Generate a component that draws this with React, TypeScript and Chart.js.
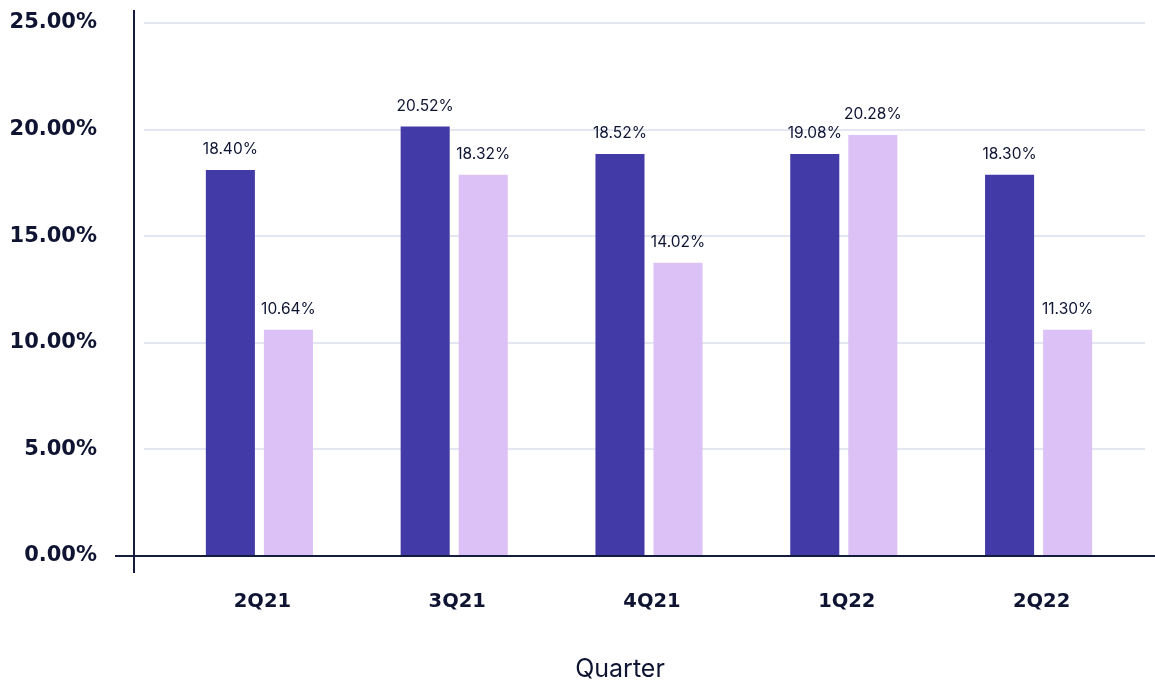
import React, { useEffect, useRef } from 'react';
import { Chart, registerables } from 'chart.js';

Chart.register(...registerables);

// ---- Data ----
const quarters = ['2Q21', '3Q21', '4Q21', '1Q22', '2Q22'];
const seriesDark = [18.11, 20.14, 18.86, 18.86, 17.88];
const seriesLight = [10.61, 17.88, 13.75, 19.75, 10.61];
const labelsDark = ['18.40%', '20.52%', '18.52%', '19.08%', '18.30%'];
const labelsLight = ['10.64%', '18.32%', '14.02%', '20.28%', '11.30%'];
const yMin = 0;
const yMax = 25;
const yStep = 5;
const xAxisTitle = 'Quarter';

const DARK = '#423aa6';
const LIGHT = '#dbc1f6';
const TEXT = '#0e1432';
const AXIS = '#141b3b';
const GRID = '#e4e6f1';

const decorPlugin = {
  id: 'decor',
  beforeDatasetsDraw(chart: any) {
    const { ctx } = chart;
    const y = chart.scales.y;
    ctx.save();
    ctx.strokeStyle = GRID;
    ctx.lineWidth = 2;
    y.ticks.forEach((t: any) => {
      if (t.value === 0) return;
      const py = Math.round(y.getPixelForValue(t.value));
      ctx.beginPath();
      ctx.moveTo(144, py);
      ctx.lineTo(1145, py);
      ctx.stroke();
    });
    ctx.restore();
  },
  afterDatasetsDraw(chart: any) {
    const { ctx } = chart;
    const y = chart.scales.y;
    const zero = Math.round(y.getPixelForValue(0));
    ctx.save();
    // axis lines
    ctx.strokeStyle = AXIS;
    ctx.lineWidth = 2;
    ctx.beginPath();
    ctx.moveTo(134, 10);
    ctx.lineTo(134, 573);
    ctx.stroke();
    ctx.beginPath();
    ctx.moveTo(115, zero);
    ctx.lineTo(1155, zero);
    ctx.stroke();

    // value labels
    const allLabels = [labelsDark, labelsLight];
    ctx.fillStyle = TEXT;
    ctx.font = '15.5px Inter';
    ctx.textAlign = 'center';
    ctx.textBaseline = 'alphabetic';
    allLabels.forEach((labels, i) => {
      const meta = chart.getDatasetMeta(i);
      meta.data.forEach((bar: any, j: number) => {
        ctx.fillText(labels[j], bar.x, bar.y - 16);
      });
    });

    // axis title
    ctx.font = '25px Inter';
    ctx.fillText(xAxisTitle, 620, 677);
    ctx.restore();
  },
};

export default function App() {
  const canvasRef = useRef<HTMLCanvasElement | null>(null);

  useEffect(() => {
    document.body.style.margin = '0';
    const canvas = canvasRef.current;
    if (!canvas) return;
    const chart = new Chart(canvas, {
      type: 'bar',
      data: {
        labels: quarters,
        datasets: [
          {
            data: seriesDark,
            backgroundColor: DARK,
            categoryPercentage: 0.596,
            barPercentage: 0.845,
          },
          {
            data: seriesLight,
            backgroundColor: LIGHT,
            categoryPercentage: 0.596,
            barPercentage: 0.845,
          },
        ],
      },
      options: {
        animation: false,
        responsive: false,
        devicePixelRatio: 1,
        layout: { padding: { top: 23, right: 19, left: 0, bottom: 0 } },
        plugins: {
          legend: { display: false },
          tooltip: { enabled: false },
        },
        scales: {
          x: {
            grid: { display: false, drawTicks: false },
            border: { display: false },
            ticks: {
              color: TEXT,
              font: { family: 'DejaVu Sans', weight: 'bold', size: 19.5 },
              padding: 34,
              labelOffset: 3,
              maxRotation: 0,
            },
            afterFit(scale: any) {
              scale.height = 127;
              scale.paddingLeft = 0;
              scale.paddingRight = 0;
            },
          },
          y: {
            min: yMin,
            max: yMax,
            grid: { display: false, drawTicks: false },
            border: { display: false },
            ticks: {
              stepSize: yStep,
              color: TEXT,
              font: { family: 'DejaVu Sans', weight: 'bold', size: 21 },
              padding: 65,
              callback: (v: any) => Number(v).toFixed(2) + '%',
            },
            afterFit(scale: any) {
              scale.width = 162;
              scale.paddingTop = 12;
              scale.paddingBottom = 12;
            },
          },
        },
      } as any,
      plugins: [decorPlugin],
    });
    return () => chart.destroy();
  }, []);

  return (
    <div style={{ width: 1155, height: 683 }}>
      <canvas ref={canvasRef} width={1155} height={683} />
    </div>
  );
}
